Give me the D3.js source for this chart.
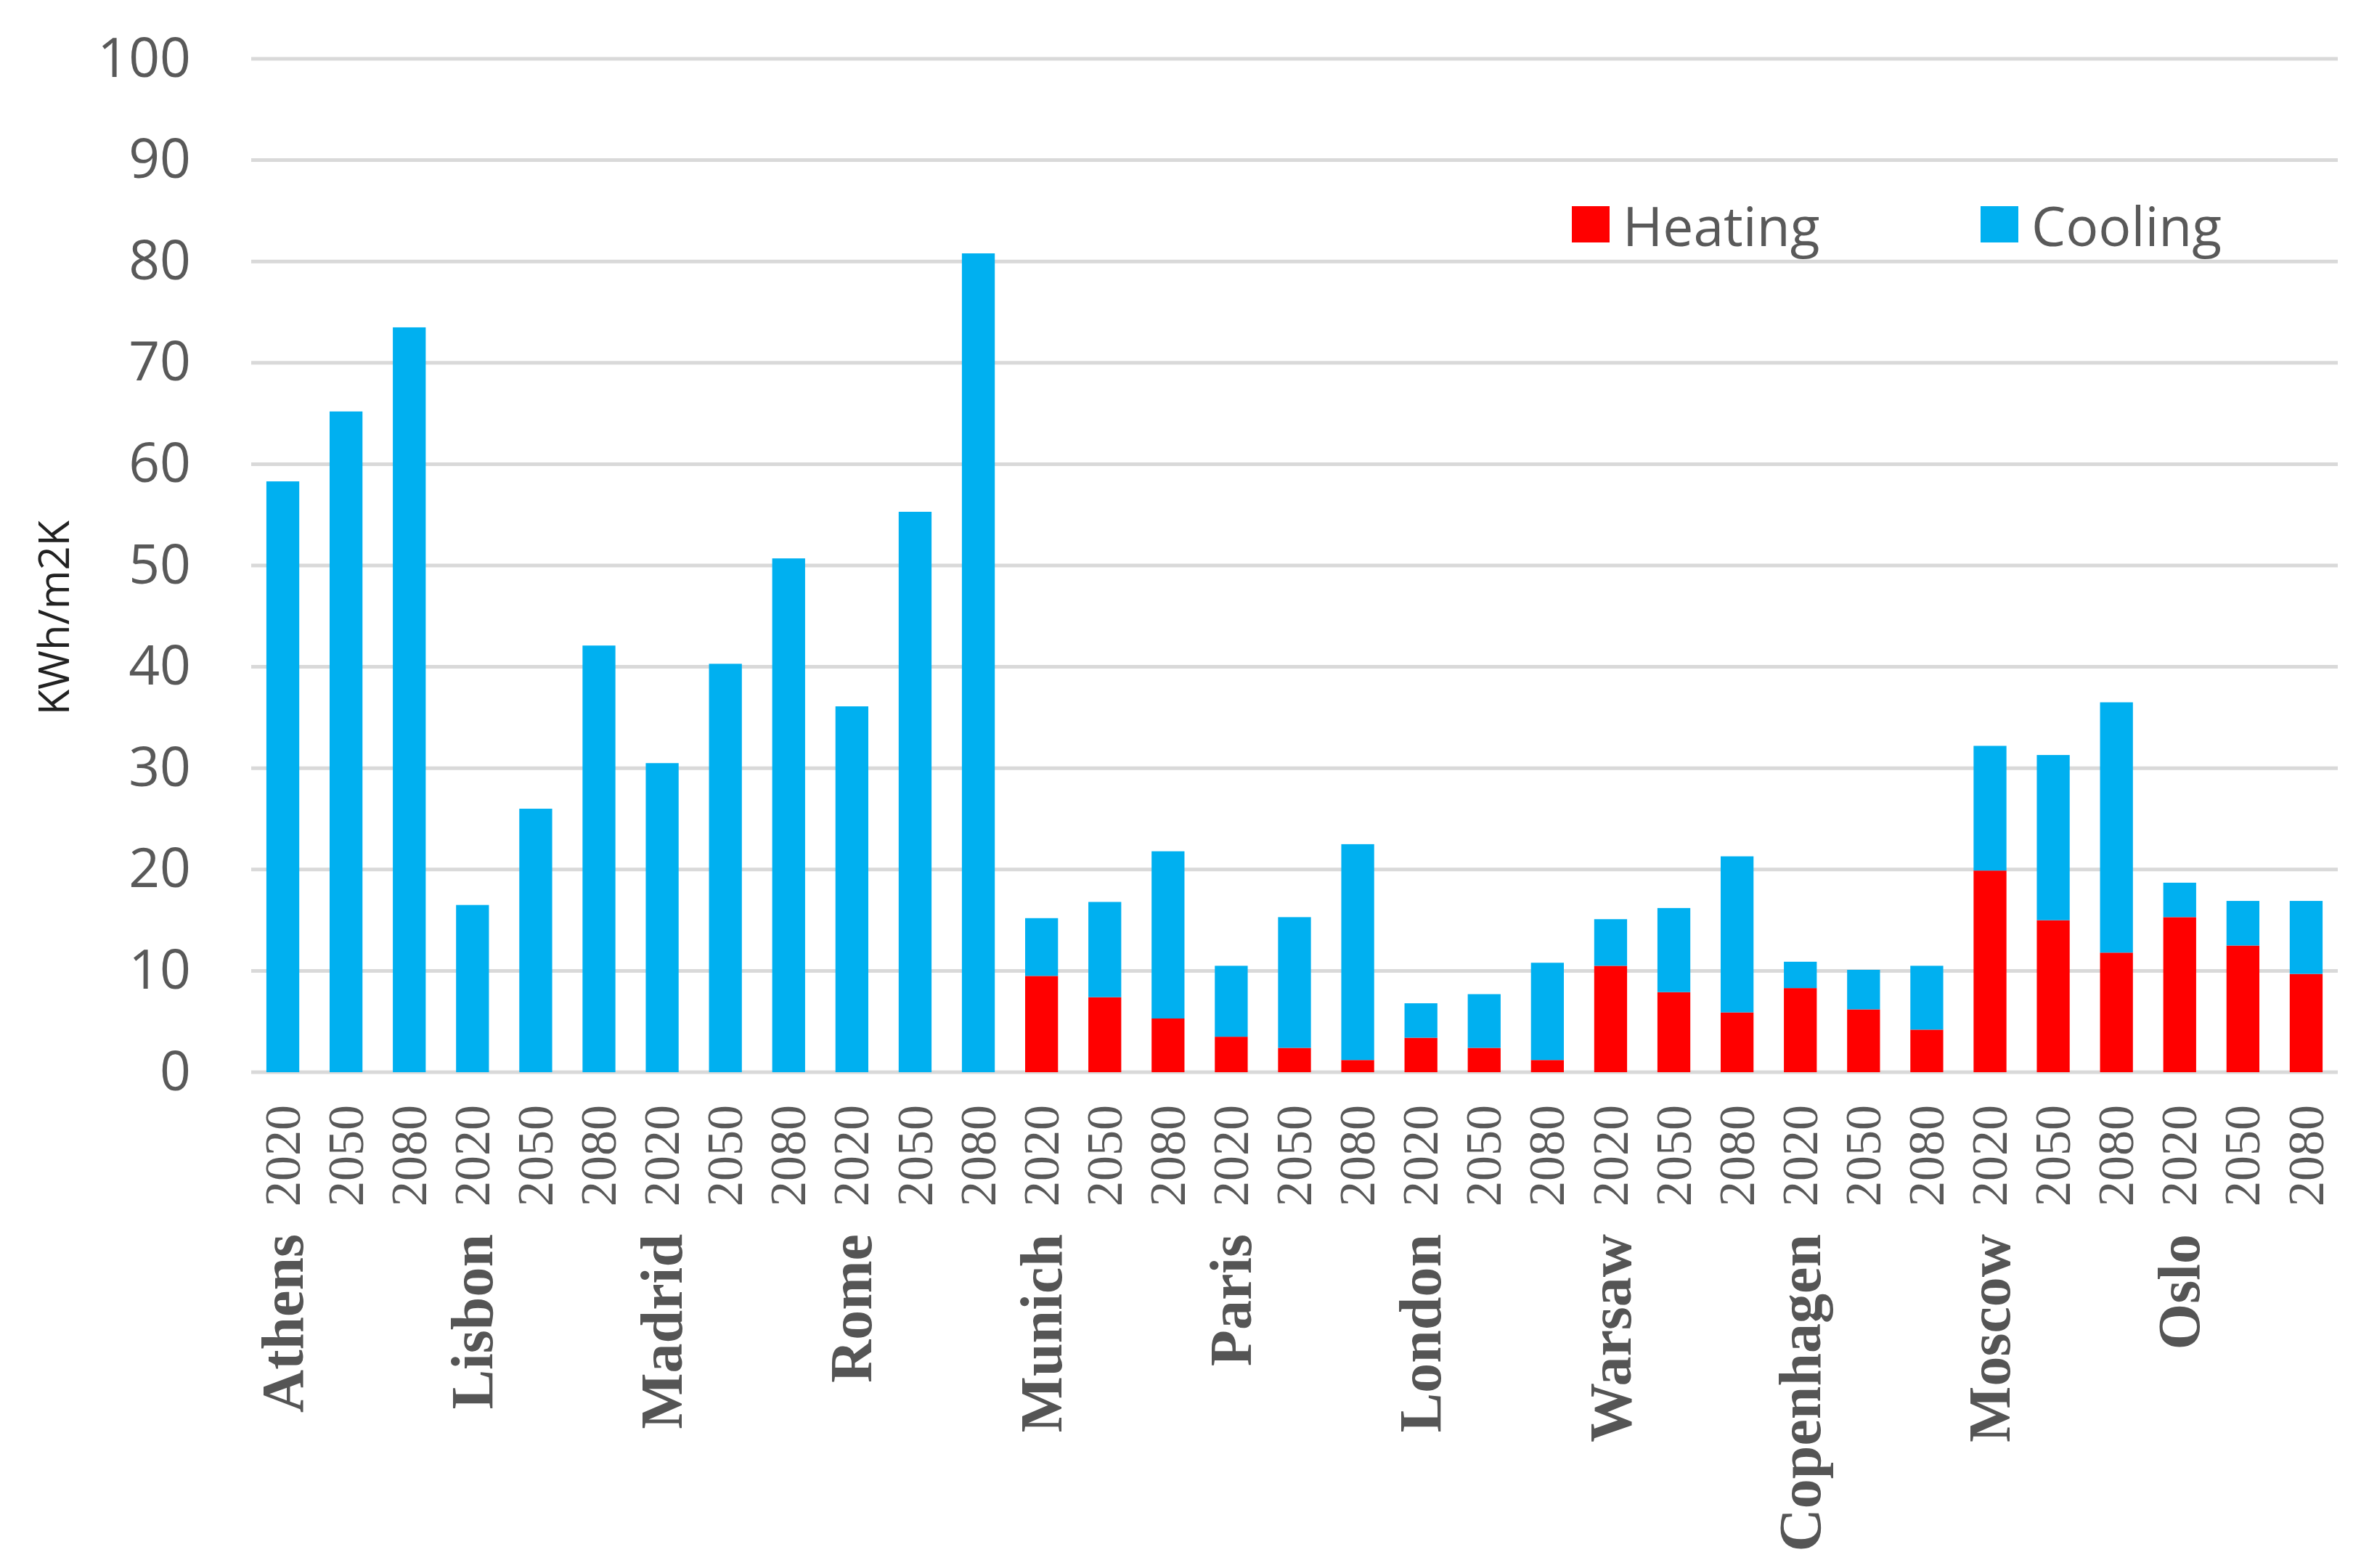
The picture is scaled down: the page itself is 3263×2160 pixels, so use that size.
<!DOCTYPE html>
<html>
<head>
<meta charset="utf-8">
<script src="https://cdn.jsdelivr.net/npm/d3@7"></script>
<style>
  html, body { margin: 0; padding: 0; background: #fff; }
  svg { display: block; }
</style>
</head>
<body>
<svg id="chart" width="3263" height="2160"></svg>
<script>
// cities, each one with three scenario years
const cities = ['Athens', 'Lisbon', 'Madrid', 'Rome', 'Munich', 'Paris',
  'London', 'Warsaw', 'Copenhagen', 'Moscow', 'Oslo'];
const years = ['2020', '2050', '2080'];

// heating part of each bar, city by city, 2020 / 2050 / 2080
const heating = [
  0, 0, 0,
  0, 0, 0,
  0, 0, 0,
  0, 0, 0,
  9.5, 7.4, 5.3,
  3.5, 2.4, 1.2,
  3.4, 2.4, 1.2,
  10.5, 7.9, 5.9,
  8.3, 6.2, 4.2,
  19.9, 15.0, 11.8,
  15.3, 12.5, 9.7
];
const totals = [
  58.3, 65.2, 73.5,
  16.5, 26.0, 42.1,
  30.5, 40.3, 50.7,
  36.1, 55.3, 80.8,
  15.2, 16.8, 21.8,
  10.5, 15.3, 22.5,
  6.8, 7.7, 10.8,
  15.1, 16.2, 21.3,
  10.9, 10.1, 10.5,
  32.2, 31.3, 36.5,
  18.7, 16.9, 16.9
];
const cooling = totals.map((t, i) => +(t - heating[i]).toFixed(1));

const yTicks = [0, 10, 20, 30, 40, 50, 60, 70, 80, 90, 100];

const colHeat = '#ff0000';
const colCool = '#00b0f0';
const grey = '#595959';

let rows = [];
cities.forEach((c, ci) => {
  years.forEach((y, yi) => {
    const i = ci * 3 + yi;
    rows.push({ id: i, city: c, year: y, heating: heating[i], cooling: cooling[i] });
  });
});

const svg = d3.select('#chart');

const x = d3.scaleBand()
  .domain(rows.map(d => d.id))
  .range([346, 3220])
  .paddingInner(0.48)
  .paddingOuter(0.24);

const y = d3.scaleLinear().domain([0, 100]).range([1477, 81]);

// gridlines
svg.append('g')
  .selectAll('line')
  .data(yTicks)
  .join('line')
  .attr('x1', 346)
  .attr('x2', 3220)
  .attr('y1', d => y(d))
  .attr('y2', d => y(d))
  .attr('stroke', '#d9d9d9')
  .attr('stroke-width', 5);

// y axis labels
const yAxis = d3.axisLeft(y).tickValues(yTicks).tickSize(0).tickPadding(0);
svg.append('g')
  .attr('transform', 'translate(263,0)')
  .call(yAxis)
  .call(g => g.select('.domain').remove())
  .selectAll('text')
  .attr('font-family', '"Open Sans", sans-serif')
  .attr('font-size', 75)
  .attr('fill', grey);

svg.append('text')
  .attr('transform', 'translate(95,851) rotate(-90)')
  .attr('text-anchor', 'middle')
  .attr('font-family', '"Open Sans", sans-serif')
  .attr('font-size', 58)
  .attr('fill', '#222')
  .text('KWh/m2K');

// stacked bars
const stack = d3.stack().keys(['heating', 'cooling'])(rows);
const colours = { heating: colHeat, cooling: colCool };

svg.append('g')
  .selectAll('g')
  .data(stack)
  .join('g')
  .attr('fill', s => colours[s.key])
  .selectAll('rect')
  .data(s => s.filter(d => d[1] - d[0] > 0))
  .join('rect')
  .attr('x', d => x(d.data.id))
  .attr('width', x.bandwidth())
  .attr('y', d => y(d[1]))
  .attr('height', d => y(d[0]) - y(d[1]));

// year labels
svg.append('g')
  .selectAll('text')
  .data(rows)
  .join('text')
  .attr('transform', d => `translate(${x(d.id) + x.bandwidth() / 2},1522) rotate(-90)`)
  .attr('text-anchor', 'end')
  .attr('dy', '0.33em')
  .attr('font-family', '"Liberation Serif", serif')
  .attr('font-size', 70)
  .attr('fill', grey)
  .text(d => d.year);

// city labels under the first bar of each group
svg.append('g')
  .selectAll('text')
  .data(rows.filter(d => d.year === '2020'))
  .join('text')
  .attr('transform', d => `translate(${x(d.id) + x.bandwidth() / 2},1700) rotate(-90)`)
  .attr('text-anchor', 'end')
  .attr('dy', '0.33em')
  .attr('font-family', '"Liberation Serif", serif')
  .attr('font-weight', 'bold')
  .attr('font-size', 82)
  .attr('fill', '#555')
  .text(d => d.city);

// legend
const legend = [
  { name: 'Heating', colour: colHeat, x: 2165 },
  { name: 'Cooling', colour: colCool, x: 2728 }
];
const lg = svg.append('g')
  .selectAll('g')
  .data(legend)
  .join('g')
  .attr('transform', d => `translate(${d.x},284)`);
lg.append('rect')
  .attr('width', 52)
  .attr('height', 50)
  .attr('fill', d => d.colour);
lg.append('text')
  .attr('x', 70)
  .attr('y', 55)
  .attr('font-family', '"Open Sans", sans-serif')
  .attr('font-size', 75)
  .attr('fill', grey)
  .text(d => d.name);
</script>
</body>
</html>
